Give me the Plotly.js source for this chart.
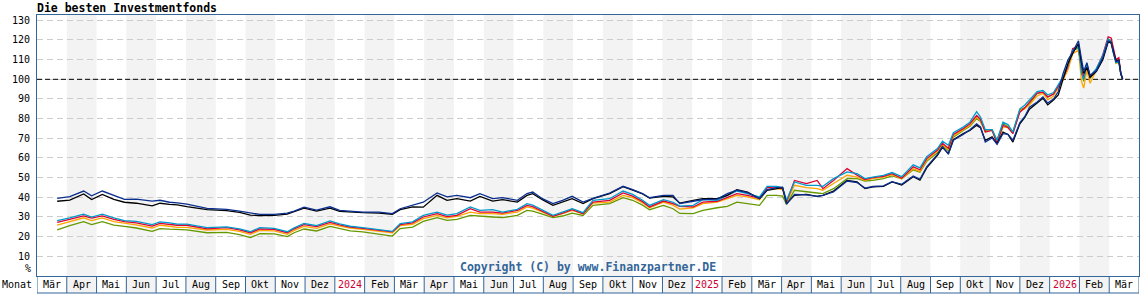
<!DOCTYPE html>
<html><head><meta charset="utf-8">
<script src="https://cdn.plot.ly/plotly-3.0.1.min.js"></script>
<style>html,body{margin:0;padding:0;background:#fff}#chart{width:1140px;height:300px}</style>
</head><body><div id="chart"></div>
<script>
const dates = ['2023-03-22','2023-04-04','2023-04-18','2023-04-26','2023-05-07','2023-05-19','2023-05-30','2023-06-11','2023-06-27','2023-07-05',
'2023-07-15','2023-07-23','2023-08-02','2023-08-23','2023-09-12','2023-09-25','2023-10-06','2023-10-16','2023-10-31','2023-11-13',
'2023-11-20','2023-11-30','2023-12-13','2023-12-27','2024-01-06','2024-01-17','2024-01-30','2024-02-15','2024-02-28','2024-03-07',
'2024-03-20','2024-03-31','2024-04-14','2024-04-24','2024-05-04','2024-05-18','2024-05-28','2024-06-10','2024-06-20','2024-07-05',
'2024-07-15','2024-07-21','2024-07-31','2024-08-11','2024-08-21','2024-08-31','2024-09-11','2024-09-21','2024-10-08','2024-10-22',
'2024-11-01','2024-11-11','2024-11-18','2024-12-02','2024-12-12','2024-12-19','2025-01-02','2025-01-12','2025-01-27','2025-02-06',
'2025-02-15','2025-02-25','2025-03-09','2025-03-17','2025-03-27','2025-04-02','2025-04-06','2025-04-14','2025-04-26','2025-05-07',
'2025-05-13','2025-05-24','2025-06-07','2025-06-17','2025-06-25','2025-07-03','2025-07-14','2025-07-23','2025-08-02','2025-08-14',
'2025-08-21','2025-08-28','2025-09-08','2025-09-13','2025-09-19','2025-09-24','2025-10-04','2025-10-11','2025-10-18','2025-10-22',
'2025-10-27','2025-11-03','2025-11-08','2025-11-14','2025-11-19','2025-11-24','2025-12-01','2025-12-06','2025-12-11','2025-12-19',
'2025-12-25','2025-12-30','2026-01-05','2026-01-10','2026-01-15','2026-01-20','2026-01-25','2026-01-31','2026-02-03','2026-02-05',
'2026-02-08','2026-02-11','2026-02-17','2026-02-23','2026-02-28','2026-03-03','2026-03-05','2026-03-08','2026-03-11','2026-03-13',
'2026-03-15'];

const fondsNavy = [39.5,40.4,43.2,40.8,43.2,41.0,39.0,39.1,38.1,38.5,
37.5,37.2,36.5,34.4,33.9,33.0,31.9,31.3,31.3,32.0,
33.0,35.0,33.5,35.2,33.4,33.1,32.5,32.5,31.7,34.2,
35.9,37.5,42.2,40.2,41.0,39.8,41.9,39.3,39.8,38.5,
41.9,42.7,39.3,36.8,38.5,40.5,37.6,39.5,42.2,45.6,
43.9,41.9,39.8,41.0,41.0,36.8,38.0,38.8,39.1,41.9,
43.6,42.4,39.3,43.9,44.9,45.2,36.5,41.5,41.2,40.5,
41.0,42.7,48.3,47.5,44.7,45.5,45.8,48.0,46.6,50.8,
49.2,55.5,61.8,65.8,62.0,69.0,72.0,74.4,77.4,75.8,
68.1,70.2,67.0,72.4,72.0,69.0,78.0,81.0,85.8,88.5,
91.0,87.9,90.0,93.8,103.0,109.8,114.0,119.6,110.0,104.0,
108.5,102.0,104.5,111.0,119.5,119.0,114.5,109.0,109.5,103.0,
100];

const fondsBlack = [38.0,38.6,41.7,38.9,41.5,39.0,37.5,37.0,35.7,37.0,
36.4,36.2,35.3,33.7,33.2,32.3,31.0,30.7,30.8,31.5,
32.7,34.5,33.0,34.5,32.9,32.5,32.2,32.0,31.4,33.7,
35.1,35.0,41.0,38.5,39.3,38.1,40.5,38.1,38.8,37.6,
41.0,41.9,38.8,35.9,37.6,39.3,36.8,39.3,41.9,45.4,
43.7,41.7,39.6,40.5,40.2,37.1,38.5,39.3,39.3,41.0,
43.9,42.7,39.3,43.6,44.4,44.9,36.8,41.0,41.5,40.5,
41.0,43.2,48.6,47.8,44.4,45.3,45.6,47.8,46.3,50.5,
48.8,55.0,61.4,65.4,62.3,69.3,72.4,74.0,76.6,75.4,
69.0,70.7,67.3,73.2,72.0,68.1,77.4,80.5,84.8,87.9,
90.4,87.0,89.5,92.1,99.7,108.1,113.2,118.2,108.1,103.0,
106.0,101.0,104.0,110.0,119.0,118.5,115.0,109.5,109.8,103.0,
100];

const fondsCyan = [28.2,29.5,31.4,29.9,31.4,29.5,28.2,27.8,26.1,27.5,
27.0,26.4,26.4,24.6,25.0,24.0,22.5,24.6,24.2,22.5,
24.5,26.7,25.6,28.0,26.5,25.3,24.6,23.5,22.7,26.6,
27.5,30.8,32.5,31.0,31.7,35.1,33.4,33.7,32.5,33.9,
36.8,36.0,33.4,30.8,32.5,34.2,32.2,38.5,39.3,43.2,
41.5,38.5,35.9,38.8,37.5,35.5,35.9,38.8,38.5,41.0,
43.2,41.9,40.2,45.6,45.6,44.9,38.5,47.8,46.1,46.1,
45.6,49.5,52.9,52.0,49.5,50.3,51.2,52.6,50.5,56.5,
55.0,60.6,64.8,68.5,66.5,72.8,75.7,78.2,83.6,80.8,
74.4,74.4,69.0,78.2,77.0,73.2,85.0,86.8,89.5,93.8,
94.3,92.0,93.3,97.1,101.3,107.3,114.8,116.5,103.0,100.0,
107.5,101.5,105.6,112.0,120.5,119.0,114.0,108.5,109.0,103.0,
100];

const fondsRed = [27.3,28.9,30.6,29.4,30.6,28.8,27.6,27.0,25.4,26.8,
26.3,25.8,25.8,24.0,24.6,23.5,22.0,23.9,23.7,22.0,
24.0,26.1,25.1,27.3,26.0,24.9,24.2,23.1,22.4,26.1,
27.0,30.0,31.7,30.2,30.8,34.2,32.5,32.5,32.0,33.4,
35.9,35.3,32.9,30.3,32.0,33.7,31.7,37.6,38.5,42.2,
40.6,37.8,35.1,38.1,36.8,35.4,35.1,37.6,38.0,40.2,
41.9,41.0,39.5,44.9,45.3,44.4,37.8,48.6,47.0,48.6,
44.4,48.6,54.6,51.2,49.0,50.0,50.7,52.0,49.7,55.5,
54.0,59.7,64.0,67.5,65.0,72.0,74.9,77.4,81.6,79.6,
73.2,74.0,67.6,76.6,75.5,72.4,83.3,85.5,88.2,93.0,
93.5,91.0,92.5,96.3,100.5,106.5,115.7,116.5,105.0,101.0,
108.0,101.0,105.2,112.5,121.6,121.0,116.0,110.0,111.0,103.5,
100];

const fondsOrange = [25.9,27.7,29.6,28.2,29.5,27.6,26.8,26.0,24.4,25.8,
25.3,24.7,24.7,23.4,23.7,22.7,21.2,23.2,22.9,21.2,
23.2,25.2,24.2,26.5,25.4,24.4,23.7,22.6,21.9,25.6,
26.3,29.2,30.8,29.6,30.3,32.5,31.7,31.7,31.4,32.5,
35.1,34.5,32.5,30.3,31.7,33.4,31.7,37.1,37.6,41.0,
39.8,37.2,34.7,37.6,36.0,34.0,34.7,36.8,37.6,39.3,
41.0,40.2,38.8,43.9,44.4,43.9,37.3,46.1,44.9,44.4,
43.6,47.0,51.2,50.3,48.6,49.5,50.3,51.5,49.4,54.5,
53.2,59.0,63.5,67.0,64.3,71.2,74.4,76.6,80.8,79.0,
73.2,74.4,67.3,75.8,75.5,72.8,84.2,85.0,87.0,91.5,
93.0,89.5,91.5,95.4,99.7,104.7,113.0,114.8,98.8,95.5,
104.7,98.0,104.7,110.5,119.5,118.0,113.5,108.1,108.5,102.5,
100];

const fondsGreen = [23.4,25.6,27.6,26.1,27.6,25.9,25.2,24.4,22.7,24.1,
23.8,23.6,23.5,22.0,22.2,21.0,19.5,21.5,21.4,20.0,
22.0,23.9,22.9,25.2,24.0,22.9,22.4,21.2,20.3,24.1,
24.9,27.8,29.7,28.3,28.8,30.8,30.3,30.0,29.7,30.8,
33.4,33.0,31.4,29.7,30.5,32.0,30.8,35.9,36.8,39.8,
38.5,36.0,33.7,35.9,34.2,31.8,31.7,33.4,34.7,35.4,
37.6,36.8,35.9,41.0,41.0,40.6,36.4,43.6,42.7,42.2,
41.9,44.4,49.5,49.5,48.3,48.6,49.5,50.9,49.4,54.0,
52.8,58.3,62.6,66.5,63.8,70.5,74.0,76.1,80.0,78.5,
74.0,74.4,69.0,77.4,76.0,73.2,84.5,85.5,87.5,92.8,
93.5,91.0,92.5,96.0,100.5,106.5,114.8,115.7,104.0,99.0,
107.0,100.5,105.0,111.5,120.5,119.5,114.5,109.0,109.5,103.0,
100];

const monthLabels = ['Mär','Apr','Mai','Jun','Jul','Aug','Sep','Okt','Nov','Dez','2024','Feb',
'Mär','Apr','Mai','Jun','Jul','Aug','Sep','Okt','Nov','Dez','2025','Feb',
'Mär','Apr','Mai','Jun','Jul','Aug','Sep','Okt','Nov','Dez','2026','Feb','Mär'];
const yTicks = [10,20,30,40,50,60,70,80,90,100,110,120,130];
const yTickText = ['10','20','30','40','50','60','70','80','90','100','110','120','130'];

// month index: 0 = start of March 2023, each month one equal-width unit
function monthIndex(s){
  const p = s.split('-').map(Number);
  const dim = new Date(p[0], p[1], 0).getDate();
  return (p[0]-2023)*12 + (p[1]-3) + (p[2]-1)/dim;
}
const xs = dates.map(monthIndex);

const MONO = 'DejaVu Sans Mono';
const BLUE = '#336699';
const nMonths = monthLabels.length;
const plotH = 300 - 15 - 24;
const rowBottom = -17/plotH;

const seriesDefs = [
  {name:'Fonds 6', y:fondsGreen, color:'#669900'},
  {name:'Fonds 5', y:fondsOrange, color:'#ffa500'},
  {name:'Fonds 4', y:fondsRed, color:'#dd0033'},
  {name:'Fonds 3', y:fondsCyan, color:'#0099cc'},
  {name:'Fonds 2', y:fondsBlack, color:'#000000'},
  {name:'Fonds 1', y:fondsNavy, color:'#0a2f8f'}
];
const traces = seriesDefs.map(s => ({
  type:'scatter', mode:'lines', x: xs, y: s.y, name: s.name,
  line:{color:s.color, width:1.3}, hoverinfo:'skip'
}));

const shapes = [];
for (let k=0; k<nMonths; k++){
  if (k % 2 === 1){
    shapes.push({type:'rect', xref:'x', yref:'paper', x0:k, x1:k+1, y0:rowBottom, y1:1,
      fillcolor:'#f3f3f3', line:{width:0}, layer:'below'});
  }
}
shapes.push({type:'line', xref:'x', yref:'y', x0:0, x1:nMonths, y0:100, y1:100,
  line:{color:'#000', width:1, dash:'5px,3px'}, layer:'between'});
for (let k=0; k<=nMonths; k++){
  shapes.push({type:'line', xref:'x', yref:'paper', x0:k, x1:k, y0:rowBottom, y1:0,
    line:{color:BLUE, width:1}});
}
shapes.push({type:'line', xref:'x', yref:'paper', x0:0, x1:nMonths, y0:rowBottom, y1:rowBottom,
  line:{color:BLUE, width:1}});

const annotations = monthLabels.map((t,k) => ({
  xref:'x', yref:'paper', x:k+0.5, y:rowBottom/2, text:t, showarrow:false,
  xanchor:'center', yanchor:'middle',
  font:{family:MONO, size:10, color: /^\d{4}$/.test(t) ? '#cc0033' : '#000'}
}));
annotations.push({xref:'paper', yref:'paper', x:0, xshift:-37, y:rowBottom/2, text:'Monat',
  showarrow:false, xanchor:'left', yanchor:'middle', font:{family:MONO, size:10, color:'#000'}});
annotations.push({xref:'paper', yref:'y', x:0, xshift:-4, y:4, text:'%',
  showarrow:false, xanchor:'right', yanchor:'middle', font:{family:MONO, size:10, color:'#000'}});
annotations.push({xref:'paper', yref:'y', x:0.5, y:4.5, text:'<b>Copyright (C) by www.Finanzpartner.DE</b>',
  showarrow:false, xanchor:'center', yanchor:'middle', font:{family:MONO, size:11.5, color:BLUE}});

const layout = {
  width:1140, height:300,
  margin:{l:37, r:1, t:15, b:24, pad:0},
  paper_bgcolor:'#fff', plot_bgcolor:'rgba(0,0,0,0)',
  showlegend:false,
  title:{text:'<b>Die besten Investmentfonds</b>', x:37/1140, xanchor:'left', xref:'container',
    y:1-8/300, yanchor:'middle', yref:'container', font:{family:MONO, size:11.5, color:'#000'}},
  xaxis:{range:[0,nMonths], showgrid:false, zeroline:false, showticklabels:false, ticks:'',
    showline:true, mirror:true, linecolor:BLUE, linewidth:1, fixedrange:true},
  yaxis:{range:[0,132.7], tickvals:yTicks, ticktext:yTickText, ticks:'', ticklabelstandoff:4,
    showgrid:true, gridcolor:'#cccccc', gridwidth:1, griddash:'6px,4px', zeroline:false,
    showline:true, mirror:true, linecolor:BLUE, linewidth:1, fixedrange:true,
    tickfont:{family:MONO, size:10, color:'#000'}},
  shapes:shapes, annotations:annotations
};

Plotly.newPlot('chart', traces, layout, {displayModeBar:false, staticPlot:true});
</script>
</body></html>
